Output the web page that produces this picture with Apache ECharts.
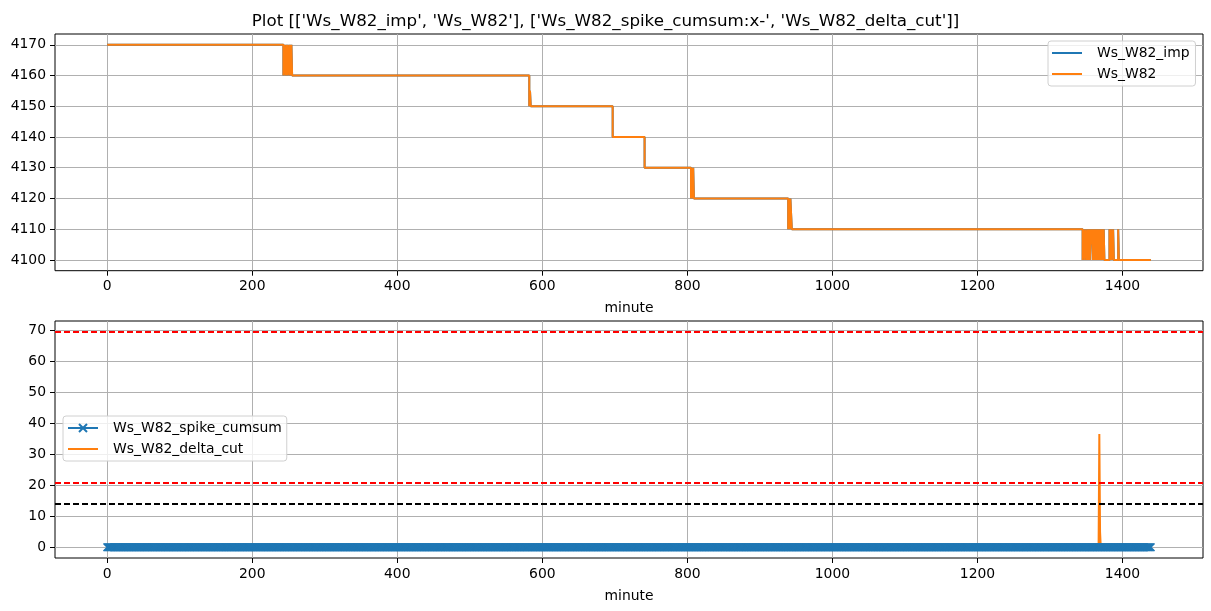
<!DOCTYPE html>
<html>
<head>
<meta charset="utf-8">
<script src="https://cdn.jsdelivr.net/npm/echarts@6/dist/echarts.min.js"></script>
<style>
html,body{margin:0;padding:0;background:#fff;}
#chart{width:1211px;height:611px;}
</style>
</head>
<body>
<div id="chart"></div>
<script>
// ---- data ----
const titleText = "Plot [['Ws_W82_imp', 'Ws_W82'], ['Ws_W82_spike_cumsum:x-', 'Ws_W82_delta_cut']]";
const xTicks = [0, 200, 400, 600, 800, 1000, 1200, 1400];
const topYTicks = [4100, 4110, 4120, 4130, 4140, 4150, 4160, 4170];
const bottomYTicks = [0, 10, 20, 30, 40, 50, 60, 70];

// Ws_W82 as step change points [minute, value]
const wsW82Steps = [
  [0, 4170], [243, 4160], [244, 4170], [246, 4160], [247, 4170], [248, 4160], [249, 4170],
  [251, 4160], [252, 4170], [253, 4160], [254, 4170], [255, 4160],
  [582, 4150], [583, 4155], [584, 4150],
  [697, 4140], [741, 4130],
  [805, 4120], [806, 4130], [807, 4120], [808, 4130], [809, 4120],
  [939, 4110], [940, 4120], [941, 4110], [942, 4120], [944, 4110],
  [1345, 4100], [1346, 4110], [1348, 4100], [1349, 4110], [1351, 4100], [1352, 4110],
  [1353, 4100], [1354, 4110], [1355, 4100], [1356, 4110], [1357, 4105], [1358, 4110],
  [1359, 4100], [1360, 4110], [1361, 4100], [1362, 4110], [1363, 4100], [1364, 4110],
  [1365, 4100], [1366, 4110], [1367, 4100], [1368, 4110], [1369, 4100], [1370, 4110],
  [1371, 4100], [1372, 4110], [1373, 4100], [1374, 4110], [1375, 4100],
  [1382, 4110], [1383, 4100], [1384, 4110], [1385, 4100], [1387, 4110], [1388, 4100],
  [1394, 4110], [1395, 4100], [1439, 4100]
];
// imputed series is identical to the raw one in the reference
const wsW82ImpSteps = wsW82Steps;

// spike cumsum: constant value over all minutes
const spikeCumsumRuns = [[0, 1439, 0]]; // [startMinute, endMinute, value]
const deltaCutPoints = [[0, 0], [1367, 0], [1368, 36.5], [1369, 5], [1370, 0], [1439, 0]];
const redThresholds = [69.5, 20.8];
const blackThresholds = [13.9];

// axis limits
const xLimits = [-71.95, 1510.95];
const topYLimits = [4096.5, 4173.5];
const bottomYLimits = [-3.475, 72.975];

// ---- build ----
const spikeCumsumData = [];
spikeCumsumRuns.forEach(function (r) {
  for (let m = r[0]; m <= r[1]; m++) spikeCumsumData.push([m, r[2]]);
});

const BLUE = '#1f77b4', ORANGE = '#ff7f0e';
const FONT = 'DejaVu Sans';
const FS = 13.9;
const GRID_COLOR = '#b0b0b0';
const plainLineIcon = 'path://M0,0h0.001v0.001h-0.001zM0,10h0.001v-0.001h-0.001zM0,4.1H30V5.9H0Z';

function plainFmt(v) { return String(v); }

function xAxisDef(gridIndex) {
  return {
    type: 'value', gridIndex: gridIndex, min: xLimits[0], max: xLimits[1],
    name: 'minute', nameLocation: 'middle', nameGap: 31,
    nameTextStyle: {color: '#000', fontFamily: FONT, fontSize: FS},
    axisLine: {show: false, onZero: false},
    axisTick: {show: true, inside: false, length: 5, customValues: xTicks, lineStyle: {color: '#000', width: 1}},
    axisLabel: {show: true, margin: 9, customValues: xTicks, formatter: plainFmt, color: '#000', fontFamily: FONT, fontSize: FS},
    splitLine: {show: true, lineStyle: {color: GRID_COLOR, width: 1}}
  };
}
function yAxisDef(gridIndex, lim, ticks) {
  return {
    type: 'value', gridIndex: gridIndex, min: lim[0], max: lim[1],
    axisLine: {show: false, onZero: false},
    axisTick: {show: true, inside: false, length: 5, customValues: ticks, lineStyle: {color: '#000', width: 1}},
    axisLabel: {show: true, margin: 9, customValues: ticks, formatter: plainFmt, color: '#000', fontFamily: FONT, fontSize: FS},
    splitLine: {show: true, lineStyle: {color: GRID_COLOR, width: 1}}
  };
}

const hLines = redThresholds.map(function (v) {
  return {yAxis: v, lineStyle: {color: '#ff0000', width: 1.8, type: [6, 3]}};
}).concat(blackThresholds.map(function (v) {
  return {yAxis: v, lineStyle: {color: '#000000', width: 1.8, type: [6, 3]}};
}));

const legendCommon = {
  orient: 'vertical',
  backgroundColor: 'rgba(255,255,255,0.8)',
  borderColor: '#d0d0d0', borderWidth: 1, borderRadius: 3,
  itemWidth: 30, itemHeight: 10, itemGap: 7,
  textStyle: {color: '#000', fontFamily: FONT, fontSize: FS, padding: [0, 0, 0, 10]}
};

const option = {
  animation: false,
  backgroundColor: '#fff',
  title: {
    text: titleText, left: 'center', top: 8,
    textStyle: {color: '#000', fontFamily: FONT, fontSize: 16.7, fontWeight: 'normal'}
  },
  grid: [
    {left: 55, right: 8, top: 34, height: 236.7, show: true, borderColor: '#000', borderWidth: 1, backgroundColor: 'transparent'},
    {left: 55, right: 8, top: 321, height: 237, show: true, borderColor: '#000', borderWidth: 1, backgroundColor: 'transparent'}
  ],
  xAxis: [xAxisDef(0), xAxisDef(1)],
  yAxis: [yAxisDef(0, topYLimits, topYTicks), yAxisDef(1, bottomYLimits, bottomYTicks)],
  legend: [
    Object.assign({}, legendCommon, {
      left: 1048, top: 41, padding: [5, 6, 5, 4],
      data: [{name: 'Ws_W82_imp', icon: plainLineIcon}, {name: 'Ws_W82', icon: plainLineIcon}]
    }),
    Object.assign({}, legendCommon, {
      left: 63, top: 416, padding: [5, 5, 5, 4],
      data: [{name: 'Ws_W82_spike_cumsum'}, {name: 'Ws_W82_delta_cut', icon: plainLineIcon}]
    })
  ],
  series: [
    {
      name: 'Ws_W82_imp', type: 'line', xAxisIndex: 0, yAxisIndex: 0,
      data: wsW82ImpSteps, step: 'end', symbol: 'none',
      lineStyle: {color: BLUE, width: 2}, itemStyle: {color: BLUE}
    },
    {
      name: 'Ws_W82', type: 'line', xAxisIndex: 0, yAxisIndex: 0,
      data: wsW82Steps, step: 'end', symbol: 'none',
      lineStyle: {color: ORANGE, width: 2}, itemStyle: {color: ORANGE}
    },
    {
      name: 'Ws_W82_spike_cumsum', type: 'line', xAxisIndex: 1, yAxisIndex: 1,
      data: spikeCumsumData, symbol: 'path://M0,0L10,10M10,0L0,10', symbolSize: 7.5,
      showAllSymbol: true,
      lineStyle: {color: BLUE, width: 2},
      itemStyle: {color: 'none', borderColor: BLUE, borderWidth: 1.3}
    },
    {
      name: 'Ws_W82_delta_cut', type: 'line', xAxisIndex: 1, yAxisIndex: 1,
      data: deltaCutPoints, symbol: 'none',
      lineStyle: {color: ORANGE, width: 2}, itemStyle: {color: ORANGE},
      markLine: {silent: true, symbol: 'none', label: {show: false}, data: hLines}
    }
  ]
};

const chart = echarts.init(document.getElementById('chart'), null, {renderer: 'canvas'});
chart.setOption(option);
</script>
</body>
</html>
